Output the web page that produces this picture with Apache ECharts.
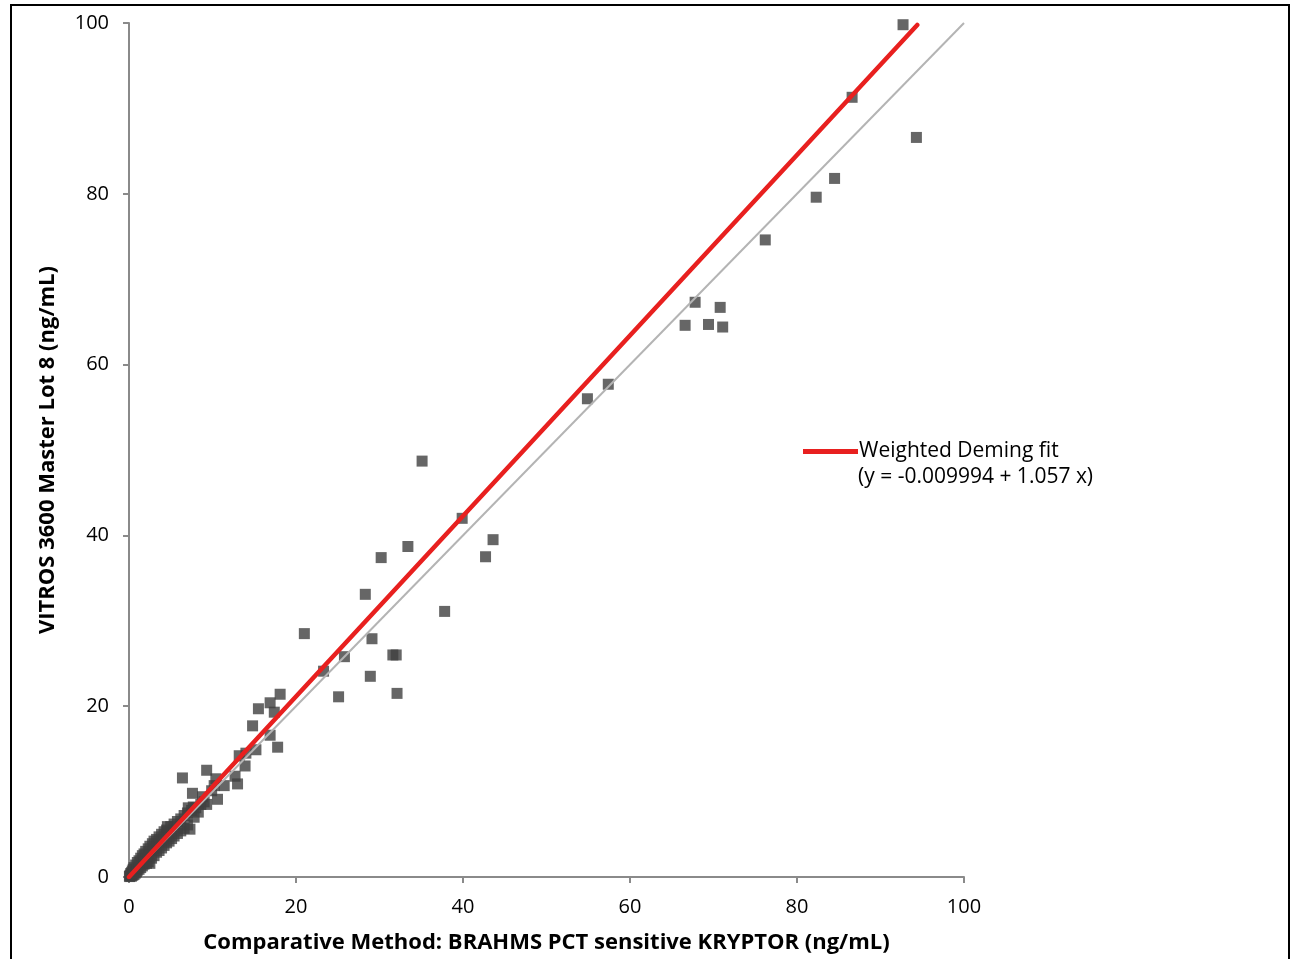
<!DOCTYPE html>
<html>
<head>
<meta charset="utf-8">
<script src="https://cdn.jsdelivr.net/npm/echarts@6/dist/echarts.min.js"></script>
<style>
  html, body { margin: 0; padding: 0; background: #fff; }
  #chart { width: 1294px; height: 959px; }
</style>
</head>
<body>
<div id="chart"></div>
<script>
// tick labels
const xTicks = [0, 20, 40, 60, 80, 100];
const yTicks = [0, 20, 40, 60, 80, 100];

// measured pairs [comparative, vitros]
const upperPoints = [
  [92.7, 99.8], [86.6, 91.3], [94.3, 86.6], [84.5, 81.8], [82.3, 79.6], [76.2, 74.6],
  [67.8, 67.3], [70.8, 66.7], [66.6, 64.6], [69.4, 64.7], [71.1, 64.4],
  [57.4, 57.7], [54.9, 56.0],
  [35.1, 48.7], [39.9, 42.0], [43.6, 39.5], [42.7, 37.5], [33.4, 38.7], [30.2, 37.4],
  [28.3, 33.1], [37.8, 31.1], [21.0, 28.5], [29.1, 27.9], [31.6, 26.0], [32.0, 26.0],
  [25.8, 25.8], [23.3, 24.1], [28.9, 23.5], [25.1, 21.1], [32.1, 21.5]
];
const midPoints = [
  [18.1, 21.4], [16.9, 20.4], [15.5, 19.7], [17.4, 19.3], [14.8, 17.7], [16.9, 16.6],
  [17.8, 15.2], [15.2, 14.9], [14.0, 14.5], [13.2, 14.2], [13.9, 13.0], [9.3, 12.5],
  [6.4, 11.6], [12.7, 11.8], [13.0, 10.9], [10.4, 11.5], [10.2, 10.7], [11.4, 10.7],
  [9.9, 10.1], [7.6, 9.8], [8.8, 9.4], [10.6, 9.1], [9.3, 8.5], [7.1, 8.1], [7.7, 8.2]
];
const lowPoints = [
  [0.05, 0.1], [0.1, 0.05], [0.15, 0.2], [0.2, 0.4], [0.3, 0.1], [0.3, 0.5], [0.45, 0.2],
  [0.4, 0.7], [0.6, 0.3], [0.5, 0.9], [0.75, 0.45], [0.6, 1.1], [0.9, 0.6], [0.8, 1.4],
  [1.0, 0.8], [1.0, 1.7], [1.2, 0.9], [1.2, 1.9], [1.4, 1.1], [1.4, 2.2], [1.6, 1.3],
  [1.6, 2.5], [1.8, 1.5], [1.8, 2.7], [2.1, 1.6], [2.0, 3.0], [2.3, 1.8], [2.3, 3.3],
  [2.5, 1.6], [2.5, 3.6], [2.7, 2.2], [2.8, 3.9], [3.0, 2.5], [3.0, 4.2], [3.3, 2.9],
  [3.3, 4.4], [3.6, 3.1], [3.6, 4.7], [3.9, 3.4], [3.9, 5.0], [4.2, 3.7], [4.2, 5.3],
  [4.5, 4.0], [4.5, 5.5], [4.8, 4.2], [4.6, 5.9], [5.1, 4.5], [5.0, 5.9], [5.4, 4.8],
  [5.4, 6.2], [5.8, 5.1], [5.8, 6.5], [6.2, 5.4], [6.2, 6.8], [6.6, 5.7], [6.6, 7.2],
  [7.0, 6.1], [7.0, 7.5], [7.3, 5.6], [7.5, 7.8], [7.8, 7.0], [8.0, 8.1], [8.3, 7.6],
  [8.6, 8.5], [9.0, 8.8]
];

// lines
const identityLine = [[0, 0], [100, 100]];
const fitLine = [[0, -0.009994], [94.4, -0.009994 + 1.057 * 94.4]];
const fitName = 'Weighted Deming fit';
const fitEquation = '(y = -0.009994 + 1.057 x)';

const font = '"Open Sans", "Noto Sans", sans-serif';
const chart = echarts.init(document.getElementById('chart'));

chart.setOption({
  animation: false,
  grid: { left: 129, right: 330, top: 23, bottom: 82 },
  xAxis: {
    type: 'value', min: 0, max: 100, interval: 20,
    name: 'Comparative Method: BRAHMS PCT sensitive KRYPTOR (ng/mL)',
    nameLocation: 'middle', nameGap: 55,
    nameTextStyle: { fontFamily: font, fontWeight: 'bold', fontSize: 22, color: '#000' },
    axisLine: { lineStyle: { color: '#8a8a8a', width: 2 } },
    axisTick: { length: 6, lineStyle: { color: '#8a8a8a', width: 2 } },
    axisLabel: { fontFamily: font, fontSize: 20, color: '#000', margin: 20,
      formatter: v => xTicks.includes(v) ? String(v) : '' },
    splitLine: { show: false }
  },
  yAxis: {
    type: 'value', min: 0, max: 100, interval: 20,
    name: 'VITROS 3600 Master Lot 8 (ng/mL)',
    nameLocation: 'middle', nameGap: 70,
    nameTextStyle: { fontFamily: font, fontWeight: 'bold', fontSize: 22, color: '#000' },
    axisLine: { lineStyle: { color: '#8a8a8a', width: 2 } },
    axisTick: { length: 6, lineStyle: { color: '#8a8a8a', width: 2 } },
    axisLabel: { fontFamily: font, fontSize: 20, color: '#000', margin: 20,
      formatter: v => yTicks.includes(v) ? String(v) : '' },
    splitLine: { show: false }
  },
  legend: {
    data: [{ name: fitName, icon: 'rect' }],
    left: 798, top: 436,
    itemWidth: 55, itemHeight: 5, itemGap: 4,
    textStyle: { fontFamily: font, fontSize: 21, color: '#000', padding: [0, 0, 0, -4] }
  },
  graphic: [
    { type: 'text', left: 858, top: 467,
      style: { text: fitEquation, font: '21px ' + font, fill: '#000' } },
    { type: 'rect', silent: true,
      shape: { x: 11, y: 5, width: 1278, height: 980 },
      style: { fill: 'none', stroke: '#000', lineWidth: 2 } }
  ],
  series: [
    {
      type: 'line', data: identityLine, symbol: 'none', silent: true,
      lineStyle: { color: '#b4b4b4', width: 2 }
    },
    {
      name: fitName, type: 'line', data: fitLine, symbol: 'none',
      lineStyle: { color: '#e8201f', width: 4.5, cap: 'round' },
      itemStyle: { color: '#e8201f' }
    },
    {
      type: 'scatter', symbol: 'rect', symbolSize: 11,
      data: [...lowPoints, ...midPoints, ...upperPoints],
      itemStyle: { color: '#404040', opacity: 0.8 }
    }
  ]
});
</script>
</body>
</html>
